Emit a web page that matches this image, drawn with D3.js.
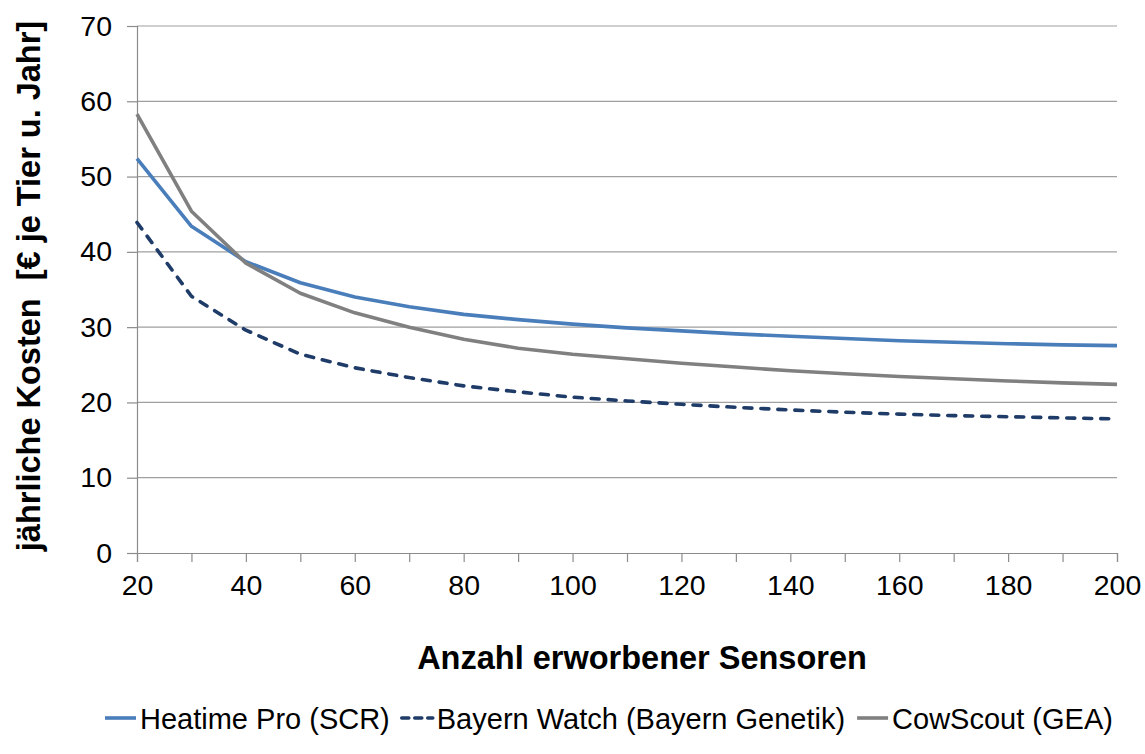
<!DOCTYPE html>
<html>
<head>
<meta charset="utf-8">
<script src="https://cdn.jsdelivr.net/npm/d3@7"></script>
<style>
  html, body { margin: 0; padding: 0; background: #fff; }
  svg { display: block; font-family: Arial, "Liberation Sans", sans-serif; }
</style>
</head>
<body>
<svg id="chart" width="1145" height="754"></svg>
<script>
// Number of sensors purchased
const sensors = [20, 30, 40, 50, 60, 70, 80, 90, 100, 110, 120, 130, 140, 150, 160, 170, 180, 190, 200];

// Annual cost per animal (€ per animal and year)
const heatime = [52.4, 43.4, 38.7, 35.9, 34.0, 32.7, 31.7, 31.0, 30.4, 29.9, 29.5, 29.1, 28.8, 28.5, 28.2, 28.0, 27.8, 27.65, 27.55];
const bayernWatch = [43.9, 34.1, 29.6, 26.4, 24.6, 23.3, 22.2, 21.4, 20.7, 20.2, 19.75, 19.35, 19.0, 18.7, 18.45, 18.25, 18.1, 17.95, 17.8];
const cowScout = [58.3, 45.4, 38.5, 34.5, 31.9, 30.0, 28.4, 27.2, 26.4, 25.8, 25.2, 24.7, 24.2, 23.8, 23.45, 23.15, 22.85, 22.6, 22.4];

const seriesNames = ["Heatime Pro (SCR)", "Bayern Watch (Bayern Genetik)", "CowScout (GEA)"];
const yTicks = [0, 10, 20, 30, 40, 50, 60, 70];
const xTicks = [20, 40, 60, 80, 100, 120, 140, 160, 180, 200];
const xMinorTicks = sensors;

const xTitle = "Anzahl erworbener Sensoren";
const yTitle = "jährliche Kosten  [€ je Tier u. Jahr]";

const series = [
  { name: seriesNames[0], values: heatime, color: "#4a7ebb", dash: null },
  { name: seriesNames[1], values: bayernWatch, color: "#1f3c68", dash: "8,9" },
  { name: seriesNames[2], values: cowScout, color: "#808080", dash: null }
];

const svg = d3.select("#chart");
const plotLeft = 137, plotRight = 1117, plotTop = 26, plotBottom = 553;

const x = d3.scaleLinear().domain([20, 200]).range([plotLeft, plotRight]);
const y = d3.scaleLinear().domain([0, 70]).range([plotBottom, plotTop]);

// horizontal gridlines
svg.append("g")
  .selectAll("line")
  .data(yTicks.filter(d => d > 0))
  .join("line")
  .attr("x1", plotLeft).attr("x2", plotRight)
  .attr("y1", d => y(d)).attr("y2", d => y(d))
  .attr("stroke", "#a0a0a0").attr("stroke-width", 1.2);

// y axis
const yAxis = svg.append("g")
  .attr("transform", `translate(${plotLeft},0)`)
  .call(d3.axisLeft(y).tickValues(yTicks).tickSize(10).tickPadding(15).tickFormat(d3.format("d")));
yAxis.select(".domain").attr("stroke", "#8c8c8c").attr("stroke-width", 1.2);
yAxis.selectAll(".tick line").attr("stroke", "#8c8c8c").attr("stroke-width", 1.2);
yAxis.selectAll("text").attr("font-size", 28.5).attr("fill", "#000").attr("font-family", "Arial, 'Liberation Sans', sans-serif");

// x axis: ticks every 10, labels every 20
const xAxis = svg.append("g")
  .attr("transform", `translate(0,${plotBottom})`)
  .call(d3.axisBottom(x).tickValues(xMinorTicks).tickSize(9).tickPadding(13)
    .tickFormat(d => xTicks.includes(d) ? d3.format("d")(d) : ""));
xAxis.select(".domain").attr("stroke", "#8c8c8c").attr("stroke-width", 1.2);
xAxis.selectAll(".tick line").attr("stroke", "#8c8c8c").attr("stroke-width", 1.2);
xAxis.selectAll("text").attr("font-size", 28.5).attr("fill", "#000").attr("font-family", "Arial, 'Liberation Sans', sans-serif");

// series lines
const line = d3.line()
  .x((d, i) => x(sensors[i]))
  .y(d => y(d));

svg.append("g")
  .selectAll("path")
  .data(series)
  .join("path")
  .attr("d", d => line(d.values))
  .attr("fill", "none")
  .attr("stroke", d => d.color)
  .attr("stroke-width", 3.6)
  .attr("stroke-linejoin", "round")
  .attr("stroke-linecap", d => d.dash ? "round" : "butt")
  .attr("stroke-dasharray", d => d.dash);

// axis titles
svg.append("text")
  .attr("x", 642).attr("y", 669)
  .attr("text-anchor", "middle")
  .attr("font-size", 32.5).attr("font-weight", "bold")
  .text(xTitle);

svg.append("text")
  .attr("transform", "translate(40,286) rotate(-90)")
  .attr("text-anchor", "middle")
  .attr("font-size", 32.5).attr("font-weight", "bold")
  .style("white-space", "pre")
  .text(yTitle);

// legend
const legend = svg.append("g").attr("transform", "translate(0,718)");
let lx = 105;
series.forEach(s => {
  const g = legend.append("g").attr("transform", `translate(${lx},0)`);
  g.append("line")
    .attr("x1", 0).attr("x2", 31).attr("y1", 0).attr("y2", 0)
    .attr("stroke", s.color).attr("stroke-width", 3.6)
    .attr("stroke-linecap", s.dash ? "round" : "butt")
    .attr("stroke-dasharray", s.dash ? "7,6" : null);
  const t = g.append("text")
    .attr("x", 35).attr("y", 10.5)
    .attr("font-size", 29)
    .text(s.name);
  lx += 35 + t.node().getComputedTextLength() + 12;
});
</script>
</body>
</html>
